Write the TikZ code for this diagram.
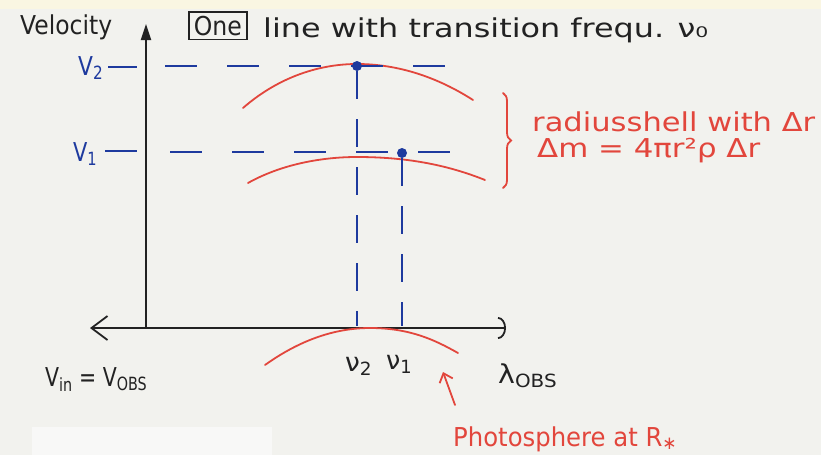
\documentclass[tikz,border=0pt]{standalone}
\usepackage{fontspec}
\setmainfont{DejaVu Sans}
\usetikzlibrary{arrows.meta,decorations.pathreplacing}
\definecolor{bg}{HTML}{F2F2EE}
\definecolor{bgtop}{HTML}{FAF6E2}
\definecolor{patch}{HTML}{F8F8F7}
\definecolor{inkblue}{HTML}{1E3A9E}
\definecolor{inkred}{HTML}{E2463C}
\definecolor{ink}{HTML}{222222}
\newcommand\wfit[2]{\resizebox{#1}{\height}{#2}}
\begin{document}
\begin{tikzpicture}[x=1pt,y=-1pt,
  hand/.style={font=\fontsize{26}{30}\selectfont, inner sep=0pt, anchor=base west, text=ink},
  axisline/.style={draw=ink, line width=1.8pt},
  bluetick/.style={draw=inkblue, line width=2.6pt},
  bluedashh/.style={draw=inkblue, line width=2.6pt, dash pattern=on 32pt off 30pt},
  bluedashv/.style={draw=inkblue, line width=2.6pt, dash pattern=on 28pt off 20pt},
  redink/.style={draw=inkred, line width=1.8pt, line cap=round},
  dotmark/.style={circle, fill=inkblue, inner sep=0pt, minimum size=10pt}]
% background
\fill[bg] (0,0) rectangle (821,455);
\fill[bgtop] (0,0) rectangle (821,9);
\fill[patch] (32,427) rectangle (272,455);
\useasboundingbox (0,0) rectangle (821,455);
% axes
\coordinate (O) at (146,328);
\coordinate (ytop) at (146,24);
\coordinate (xleft) at (90,328);
\coordinate (xright) at (506,328);
\draw[axisline, -{Triangle[length=16pt,width=10pt]}] (O) -- (ytop);
\draw[axisline, {Straight Barb[length=16pt,width=24pt]}-{Arc Barb[length=8pt,width=22pt]}] (xleft) -- (xright);
% red shells
\draw[redink] (243,108) .. controls (275,80) and (315,64) .. (357,64) .. controls (405,64) and (445,82) .. (473,100);
\draw[redink] (248,183) .. controls (280,165) and (320,157) .. (357,157) .. controls (410,157) and (450,166) .. (485,180);
\draw[redink] (265,365) .. controls (300,340) and (335,328) .. (370,328) .. controls (410,328) and (435,340) .. (458,353);
\draw[redink, decorate, decoration={brace, amplitude=8pt}] (503,93) -- (503,188);
% velocity levels
\node[hand, text=inkblue] (v2lab) at (78,75) {\wfit{25pt}{V\textsubscript{2}}};
\node[hand, text=inkblue] (v1lab) at (73,161) {\wfit{24pt}{V\textsubscript{1}}};
\coordinate (t2a) at (108,67); \coordinate (t2b) at (137,67);
\coordinate (t1a) at (105,151); \coordinate (t1b) at (137,151);
\draw[bluetick] (t2a) -- (t2b);
\draw[bluetick] (t1a) -- (t1b);
\coordinate (h2a) at (165,66); \coordinate (h2b) at (462,66);
\coordinate (h1a) at (170,152); \coordinate (h1b) at (463,152);
\draw[bluedashh] (h2a) -- (h2b);
\draw[bluedashh] (h1a) -- (h1b);
\node[dotmark] (dot2) at (357,66) {};
\node[dotmark] (dot1) at (402,153) {};
\coordinate (b2) at (357,326);
\coordinate (b1) at (402,326);
\draw[bluedashv] (dot2) -- (b2);
\draw[bluedashv] (dot1) -- (b1);
% texts
\node[hand] (vel) at (20,34) {\wfit{92pt}{Velocity}};
\node[hand, draw=ink, line width=1.6pt, inner xsep=5pt, inner ysep=4pt] (one) at (188,35) {\wfit{48pt}{One}};
\node[hand] (title) at (263,37) {\wfit{445pt}{line with transition frequ. ν₀}};
\node[hand, text=inkred] (shell) at (532,131) {\wfit{283pt}{radiusshell with Δr}};
\node[hand, text=inkred] (dm) at (537,157) {\wfit{223pt}{Δm = 4πr²ρ Δr}};
\node[hand] (nu2) at (345,371) {\wfit{27pt}{ν\textsubscript{2}}};
\node[hand] (nu1) at (386,369) {\wfit{26pt}{ν\textsubscript{1}}};
\node[hand] (vin) at (45,386) {\wfit{102pt}{V\textsubscript{in} = V\textsubscript{OBS}}};
\node[hand] (lam) at (498,383) {\wfit{59pt}{λ\textsubscript{OBS}}};
\node[hand, text=inkred] (photo) at (453,446) {\wfit{224pt}{Photosphere at R\textsubscript{∗}}};
\coordinate (arrtail) at (455,405);
\coordinate (arrtip) at (443,372);
\draw[redink, -{Straight Barb[length=8pt,width=14pt]}] (arrtail) -- (arrtip);
\end{tikzpicture}
\end{document}
